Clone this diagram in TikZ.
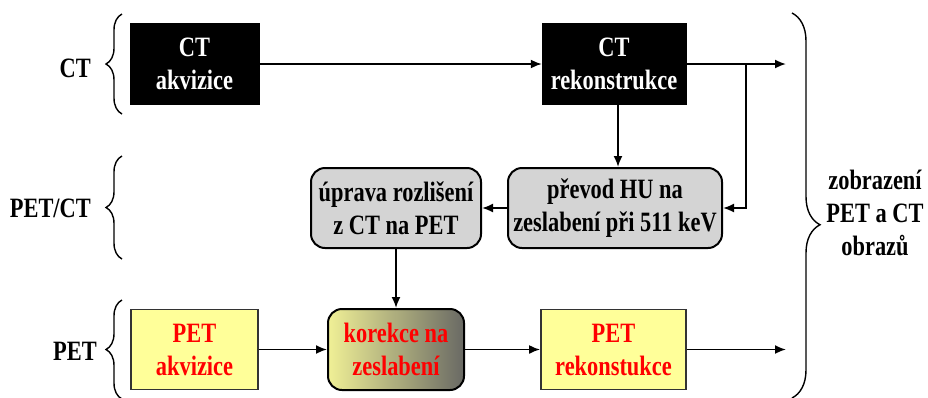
\documentclass[tikz,border=0pt]{standalone}
\usepackage{fontspec}
\setmainfont{Liberation Serif}[FakeStretch=0.8]
\usetikzlibrary{arrows.meta,decorations.pathreplacing}
\tikzstyle{pixelGrid} = [x=1pt, y=-1pt]
\definecolor{petYellow}{HTML}{FFFF99}
\definecolor{hybridGray}{HTML}{D4D4D4}
\definecolor{petRed}{HTML}{FF0000}
\definecolor{shadeLeft}{RGB}{240,240,150}
\definecolor{shadeRight}{RGB}{105,105,100}
\tikzstyle{labelText} = [font=\fontsize{28}{33}\selectfont\bfseries, align=center, inner sep=0pt]
\tikzstyle{ctBox} = [labelText, fill=black, text=white, draw=black, minimum height=81pt]
\tikzstyle{hybridBox} = [labelText, fill=hybridGray, draw=black, line width=2pt, rounded corners=14pt, minimum height=80pt]
\tikzstyle{petBox} = [labelText, fill=petYellow, text=petRed, draw=black!80, line width=1.8pt, minimum height=80pt]
\tikzstyle{attenBox} = [labelText, left color=shadeLeft, right color=shadeRight, text=petRed, draw=black, line width=2pt, rounded corners=14pt, minimum width=136pt, minimum height=81pt]
\tikzstyle{flowArrow} = [line width=1.8pt, -{Latex[length=11pt,width=9pt]}]
\tikzstyle{groupBrace} = [decorate, decoration={brace, amplitude=16pt}, line width=1.4pt]

\begin{document}
\begin{tikzpicture}[pixelGrid]
    \useasboundingbox (0,0) rectangle (928,397);
    % row labels and braces
    \node [labelText, anchor=east] (ctLabel) at (91,68) {CT};
    \node [labelText, anchor=east] (hybridLabel) at (91,208) {PET/CT};
    \node [labelText, anchor=east] (petLabel) at (97,351) {PET};
    \draw [groupBrace] (122,114) -- (122,14);
    \draw [groupBrace] (122,259) -- (122,156);
    \draw [groupBrace] (122,399) -- (122,300);
    % CT row
    \node [ctBox, minimum width=129pt] (ctAcq) at (194.5,64) {CT\\akvizice};
    \node [ctBox, minimum width=144pt] (ctRec) at (614,64) {CT\\rekonstrukce};
    % PET/CT row
    \node [hybridBox, minimum width=214pt] (huConv) at (615,208) {převod HU na\\zeslabení při 511 keV};
    \node [hybridBox, minimum width=170pt] (resAdj) at (396,208) {úprava rozlišení\\z CT na PET};
    % PET row
    \node [petBox, minimum width=127pt] (petAcq) at (194.5,349.5) {PET\\akvizice};
    \node [attenBox] (attCorr) at (396,349.5) {korekce na\\zeslabení};
    \node [petBox, minimum width=145pt] (petRec) at (613.5,349.5) {PET\\rekonstukce};
    \coordinate (ctSplit) at (746,64);
    \coordinate (ctOut) at (786,64);
    \coordinate (petOut) at (786,349.5);
    % connectors
    \draw [flowArrow] (ctAcq) -- (ctRec);
    \draw [flowArrow] (ctRec) -- (ctOut);
    \draw [flowArrow] (ctSplit) |- (huConv.east);
    \draw [flowArrow] ([xshift=4pt]ctRec.south) -- ([xshift=4pt]ctRec.south |- huConv.north);
    \draw [flowArrow] (huConv) -- (resAdj);
    \draw [flowArrow] (resAdj) -- (attCorr);
    \draw [flowArrow] (petAcq) -- (attCorr);
    \draw [flowArrow] (attCorr) -- (petRec);
    \draw [flowArrow] (petRec) -- (petOut);
    % output
    \draw [groupBrace, decoration={aspect=0.55, amplitude=28pt}] (792,13) -- (792,398);
    \node [labelText] (display) at (875,213) {zobrazení\\PET a CT\\obrazů};
\end{tikzpicture}
\end{document}
